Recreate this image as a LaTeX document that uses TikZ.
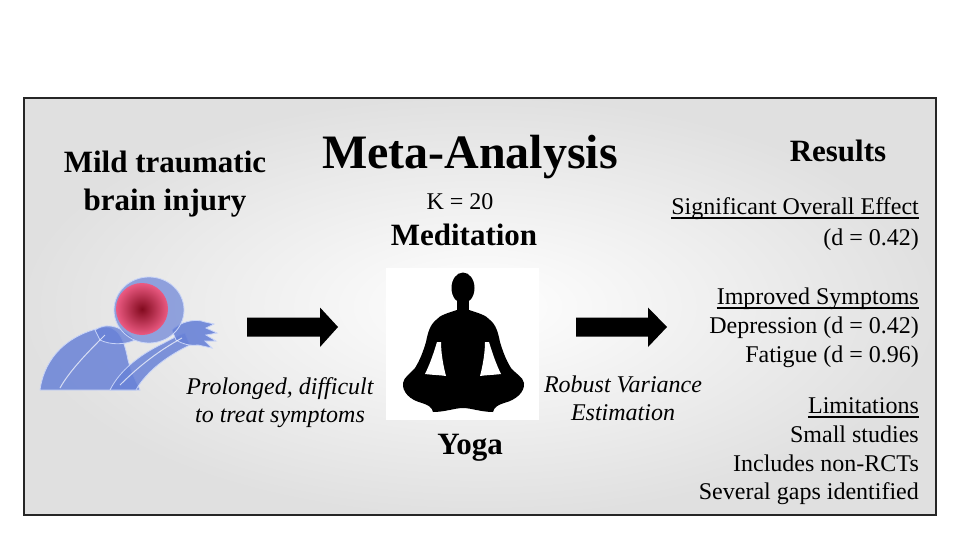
\documentclass[tikz,border=0pt]{standalone}
\usepackage{fontspec}
\setmainfont{Liberation Serif}[BoldFont={Liberation Serif Bold}, ItalicFont={Liberation Serif Italic}]
\begin{document}
\begin{tikzpicture}[x=1pt,y=-1pt,
  headbig/.style={font=\fontsize{48}{56}\selectfont\bfseries, inner sep=0pt, anchor=base},
  headmid/.style={font=\fontsize{31}{36}\selectfont\bfseries, inner sep=0pt, anchor=base},
  plain/.style={font=\fontsize{24}{29}\selectfont, inner sep=0pt},
  ital/.style={font=\fontsize{24}{29}\selectfont\itshape, inner sep=0pt, anchor=base},
  rcol/.style={plain, anchor=base east},
  uline/.style={line width=1.3pt, black},
  fatarrow/.style={fill=black, draw=none},
  sil/.style={fill=black, draw=none},
  figblue/.style={fill={rgb,255:red,105;green,130;blue,215}, draw={rgb,255:red,200;green,212;blue,248}, line width=0.8pt}
]
\useasboundingbox (0,0) rectangle (960,540);
\fill[white] (0,0) rectangle (960,540);

% panel
\shade[inner color=white, outer color=black!12] (24,98) rectangle (936,515);
\draw[line width=1.6pt, black!85] (24,98) rectangle (936,515);

% ---------- left: brain injury figure ----------
\begin{scope}
  % body / back
  \path[figblue, fill opacity=0.85] (40,390) .. controls (45,355) and (70,335) .. (100,328)
     .. controls (120,322) and (125,345) .. (128,360)
     .. controls (132,375) and (138,385) .. (140,390) -- cycle;
  % neck / spine
  \path[figblue, fill opacity=0.8] (95,330) .. controls (110,320) and (125,330) .. (135,340)
     .. controls (125,345) and (110,345) .. (100,340) -- cycle;
  % arm
  \path[figblue, fill opacity=0.85] (110,390) .. controls (120,370) and (140,355) .. (160,345)
     .. controls (170,340) and (178,335) .. (185,333)
     -- (190,345) .. controls (175,352) and (160,362) .. (150,372)
     .. controls (142,380) and (138,386) .. (136,390) -- cycle;
  % hand with fingers
  \path[figblue, fill opacity=0.9] (172,330) .. controls (180,322) and (195,318) .. (205,322)
     -- (214,324) -- (206,328) -- (217,333) -- (206,335) -- (216,341) -- (205,341)
     -- (212,348) -- (198,345) .. controls (190,346) and (182,344) .. (176,340) -- cycle;
  % head
  \path[figblue, fill opacity=0.7] (149,310) ellipse [x radius=35, y radius=33];
  % brain
  \shade[inner color={rgb,255:red,130;green,10;blue,30}, outer color={rgb,255:red,235;green,90;blue,130}]
     (142,309) ellipse [x radius=26, y radius=26];
  % skeleton hints
  \draw[white, line width=1pt, opacity=0.7] (105,335) .. controls (90,350) and (70,370) .. (60,388);
  \draw[white, line width=1pt, opacity=0.7] (120,385) .. controls (140,365) and (160,350) .. (182,338);
\end{scope}

% ---------- texts left ----------
\node[headmid] (mild) at (165,172) {Mild traumatic};
\node[headmid] (brain) at (165,210) {brain injury};
\node[ital] (prol) at (280,394) {Prolonged, difficult};
\node[ital] (treat) at (280,422) {to treat symptoms};

% ---------- center ----------
\node[headbig] (meta) at (470,168) {Meta-Analysis};
\node[plain, anchor=base] (k) at (460,209) {K = 20};
\node[headmid] (medit) at (464,245) {Meditation};
\node[headmid] (yoga) at (470,454) {Yoga};

% white picture frame
\node[fill=white, minimum width=153pt, minimum height=152pt, inner sep=0pt] (pic) at (462,344) {};
% silhouette
\fill[sil] (463,288) ellipse [x radius=11.5, y radius=15.5];
\fill[sil] (457,298) rectangle (469,314);
\fill[sil] (457,310) .. controls (448,313) and (440,315) .. (436,320)
   .. controls (430,325) and (428,332) .. (426,342)
   .. controls (423,352) and (420,360) .. (415,368)
   .. controls (410,374) and (404,377) .. (403,383)
   .. controls (402,392) and (410,400) .. (422,403)
   .. controls (428,405) and (432,407) .. (433,412)
   .. controls (445,412) and (455,408) .. (463,408)
   .. controls (471,408) and (481,412) .. (493,412)
   .. controls (494,407) and (498,405) .. (504,403)
   .. controls (516,400) and (525,392) .. (524,383)
   .. controls (523,377) and (516,374) .. (511,368)
   .. controls (506,360) and (503,352) .. (500,342)
   .. controls (498,332) and (496,325) .. (490,320)
   .. controls (486,315) and (478,313) .. (469,310) -- cycle;
% gaps between arms and torso
\fill[white] (437,342) .. controls (434,352) and (430,364) .. (425,374)
   .. controls (432,375) and (440,375) .. (446,376)
   .. controls (443,365) and (441,352) .. (441,342) -- cycle;
\fill[white] (489,342) .. controls (492,352) and (496,364) .. (501,374)
   .. controls (494,375) and (486,375) .. (480,376)
   .. controls (483,365) and (485,352) .. (485,342) -- cycle;

% arrows
\coordinate (a1s) at (247,327);
\coordinate (a2s) at (576,327);
\fill[fatarrow] (a1s) ++(0,-9.5) -- ++(73,0) -- ++(0,-10) -- (338,327) -- (320,347) -- ++(0,-10.5) -- (247,336.5) -- cycle;
\fill[fatarrow] (a2s) ++(0,-9.5) -- ++(72,0) -- ++(0,-10) -- (667,327) -- (648,347) -- ++(0,-10.5) -- (576,336.5) -- cycle;

\node[ital] (rob) at (623,392) {Robust Variance};
\node[ital] (est) at (623,420) {Estimation};

% ---------- right column ----------
\node[headmid] (res) at (838,162) {Results};
\node[rcol] (sig) at (919,214) {Significant Overall Effect};
\node[rcol] (d1) at (919,245) {(d = 0.42)};
\node[rcol] (imp) at (919,304) {Improved Symptoms};
\node[rcol] (dep) at (919,333) {Depression (d = 0.42)};
\node[rcol] (fat) at (919,362) {Fatigue (d = 0.96)};
\node[rcol] (lim) at (919,413) {Limitations};
\node[rcol] (small) at (919,442) {Small studies};
\node[rcol] (incl) at (919,471) {Includes non-RCTs};
\node[rcol] (sev) at (919,499) {Several gaps identified};
\draw[uline] ([yshift=-4pt]sig.base west) -- ([yshift=-4pt]sig.base east);
\draw[uline] ([yshift=-4pt]imp.base west) -- ([yshift=-4pt]imp.base east);
\draw[uline] ([yshift=-4pt]lim.base west) -- ([yshift=-4pt]lim.base east);
\end{tikzpicture}
\end{document}
